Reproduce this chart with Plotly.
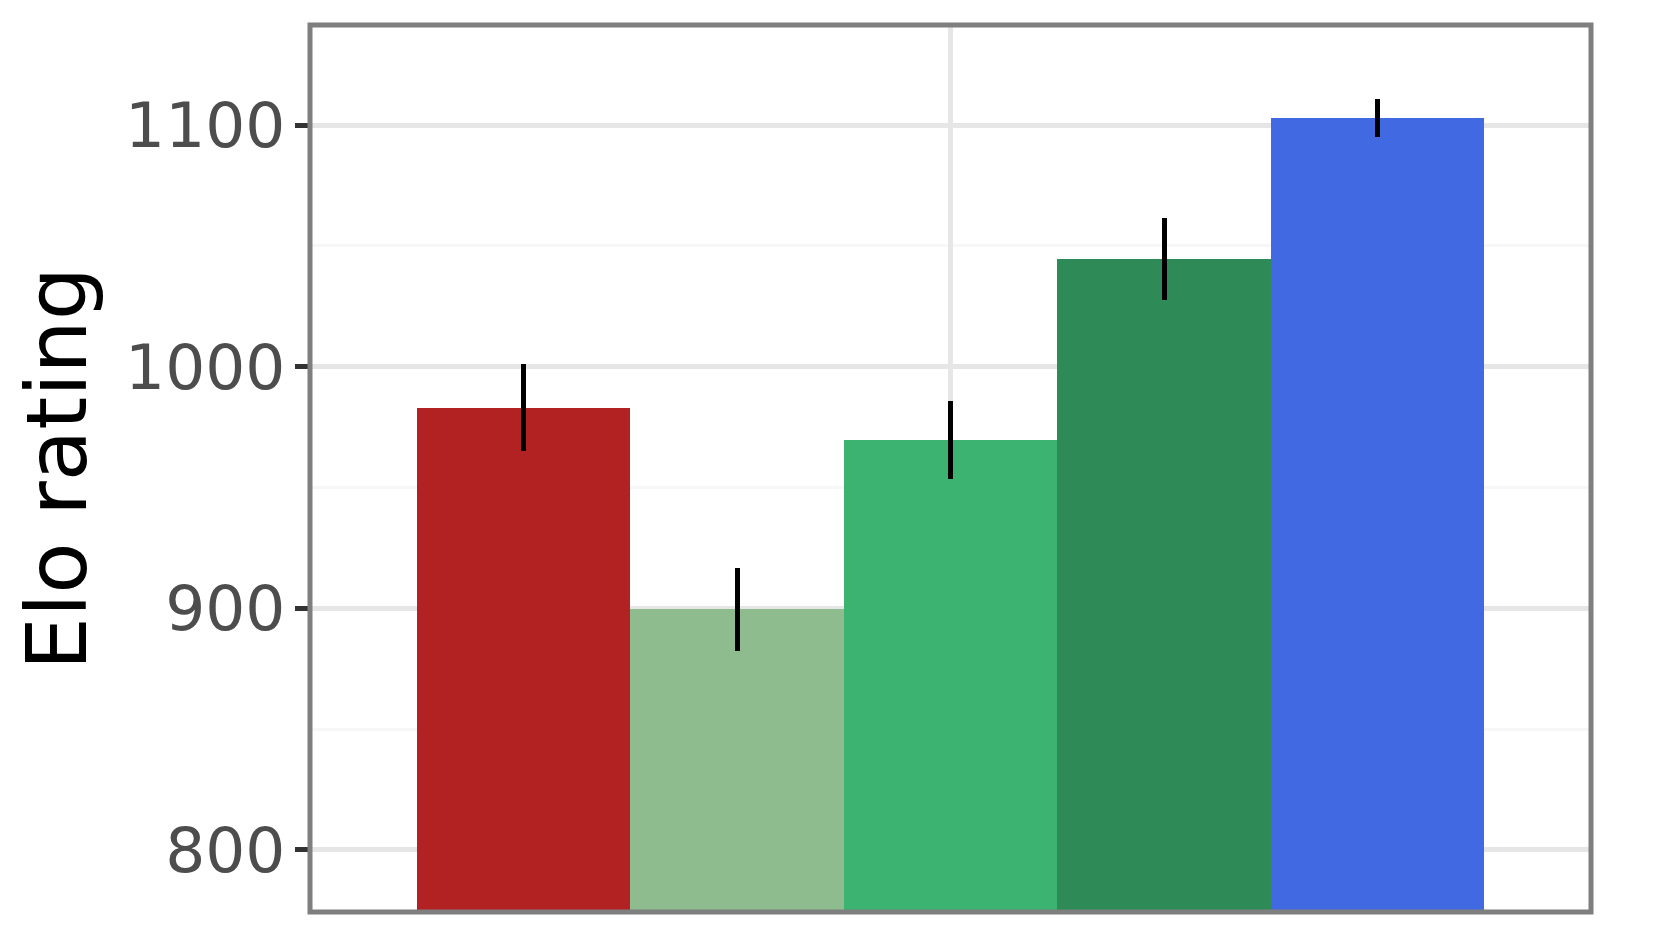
import plotly.graph_objects as go

# Data
models = ["Model 1", "Model 2", "Model 3", "Model 4", "Model 5"]
elo = [983.0, 899.6, 969.7, 1044.5, 1102.9]
elo_err = [18.0, 17.2, 16.2, 17.0, 8.0]
colors = ["#B22222", "#8FBC8F", "#3CB371", "#2E8B57", "#4169E1"]
group = ["all"]
y_ticks = [800, 900, 1000, 1100]

fig = go.Figure()
for name, val, err, col in zip(models, elo, elo_err, colors):
    fig.add_trace(go.Bar(
        x=group, y=[val], name=name,
        marker=dict(color=col, line=dict(width=0)),
        error_y=dict(type="data", array=[err], color="black",
                     thickness=5, width=0),
        showlegend=False,
    ))

fig.update_layout(
    width=1654, height=929,
    barmode="group", bargap=0, bargroupgap=0,
    margin=dict(l=302, r=71, t=17, b=25),
    plot_bgcolor="white", paper_bgcolor="white",
    font=dict(family="DejaVu Sans"),
    shapes=[dict(type="rect", xref="paper", yref="paper", x0=0, x1=1, y0=0, y1=1,
                 line=dict(color="#7F7F7F", width=5), fillcolor="rgba(0,0,0,0)", layer="above")],
)
fig.update_xaxes(
    type="category", range=[-0.6, 0.6],
    showticklabels=False, ticks="",
    showgrid=True, gridcolor="#E6E6E6", gridwidth=5,
    showline=False, zeroline=False,
)
fig.update_yaxes(
    range=[774.3, 1141.4],
    tickvals=y_ticks, ticktext=[str(v) for v in y_ticks],
    ticks="outside", ticklen=14, tickwidth=5, tickcolor="#333333",
    tickfont=dict(family="DejaVu Sans", size=63, color="#4D4D4D"),
    ticklabelstandoff=-3,
    showgrid=True, gridcolor="#E6E6E6", gridwidth=5,
    minor=dict(dtick=50, tick0=750, showgrid=True, gridcolor="#F7F7F7", gridwidth=2.5, ticks=""),
    showline=False, zeroline=False,
    title=dict(text="Elo rating", font=dict(family="DejaVu Sans", size=84, color="black"), standoff=20),
)

fig.write_html("out.html")
